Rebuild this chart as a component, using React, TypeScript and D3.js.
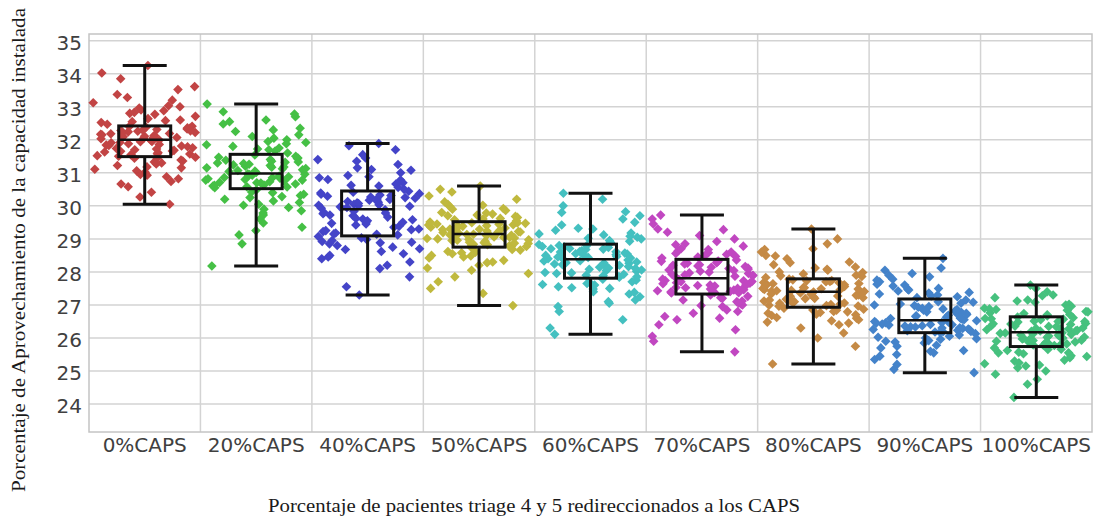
import React from "react";
import * as d3 from "d3";

// Categories along the x axis
const categories = [
  "0%CAPS", "20%CAPS", "40%CAPS", "50%CAPS", "60%CAPS",
  "70%CAPS", "80%CAPS", "90%CAPS", "100%CAPS",
];

// Box statistics per category: whisker ends (min / max), quartiles and median
const mins = [30.05, 28.18, 27.3, 26.98, 26.11, 25.58, 25.21, 24.95, 24.2];
const q1s = [31.49, 30.52, 29.09, 28.75, 27.81, 27.33, 26.93, 26.16, 25.74];
const medians = [32.0, 30.98, 29.9, 29.15, 28.38, 27.81, 27.4, 26.54, 26.17];
const q3s = [32.42, 31.56, 30.45, 29.52, 28.84, 28.38, 27.79, 27.18, 26.64];
const maxs = [34.25, 33.08, 31.89, 30.6, 30.38, 29.72, 29.3, 28.41, 27.6];

// Individual replications per scenario
const caps0 = [
  30.05, 30.41, 30.27, 30.66, 30.82, 30.74, 31.02, 30.93, 31.18, 31.11, 31.33, 31.27, 31.44, 31.39, 30.58, 31.06, 31.22, 31.47, 30.88, 31.36, 31.15,
  31.52, 31.61, 31.57, 31.74, 31.66, 31.83, 31.79, 31.91, 31.88, 31.97, 31.55, 31.7, 31.95, 31.63, 31.86, 31.76, 31.5, 31.92, 31.68, 31.81, 31.99,
  32.03, 32.11, 32.07, 32.19, 32.15, 32.26, 32.22, 32.33, 32.29, 32.4, 32.05, 32.17, 32.36, 32.09, 32.24, 32.31, 32.13, 32.38, 32.2, 32.27, 32.41,
  32.47, 32.58, 32.52, 32.71, 32.64, 32.83, 32.77, 32.96, 32.9, 33.12, 33.03, 33.28, 33.37, 33.52, 33.61, 33.85, 34.02, 34.25, 32.55, 32.88, 33.2,
  31.58, 31.72, 31.84, 31.94, 32.06, 32.18, 32.28, 32.35, 31.45, 31.3, 32.6, 32.8, 33.0, 30.95, 31.65, 32.12,
];
const caps20 = [
  28.18, 28.85, 29.12, 29.35, 29.6, 29.48, 29.78, 29.9, 29.72, 30.02, 30.1, 29.95, 30.2, 30.28, 30.15, 30.35, 30.42, 30.31, 30.48, 30.05, 29.25,
  30.55, 30.6, 30.58, 30.66, 30.63, 30.71, 30.69, 30.75, 30.78, 30.73, 30.82, 30.8, 30.86, 30.84, 30.9, 30.88, 30.93, 30.95, 30.91, 30.97, 30.62,
  31.01, 31.05, 31.09, 31.04, 31.13, 31.17, 31.12, 31.22, 31.2, 31.26, 31.3, 31.28, 31.35, 31.33, 31.4, 31.38, 31.45, 31.43, 31.5, 31.54, 31.24,
  31.6, 31.66, 31.72, 31.8, 31.75, 31.88, 31.95, 32.05, 32.0, 32.15, 32.25, 32.35, 32.3, 32.48, 32.6, 32.7, 32.55, 32.78, 32.85, 33.08, 31.92,
  30.57, 30.7, 30.85, 30.96, 31.07, 31.18, 31.32, 31.47, 30.4, 30.25, 31.7, 31.85, 32.1, 29.85, 30.78, 31.15,
];
const caps40 = [
  27.3, 27.55, 27.85, 28.1, 28.3, 28.2, 28.45, 28.55, 28.4, 28.68, 28.75, 28.62, 28.85, 28.92, 28.8, 28.98, 29.03, 28.95, 29.07, 28.5, 28.88,
  29.12, 29.18, 29.15, 29.25, 29.3, 29.22, 29.38, 29.42, 29.35, 29.5, 29.55, 29.47, 29.62, 29.66, 29.58, 29.72, 29.78, 29.7, 29.84, 29.88, 29.8,
  29.93, 29.97, 30.0, 29.95, 30.05, 30.09, 30.03, 30.13, 30.17, 30.11, 30.21, 30.25, 30.19, 30.29, 30.33, 30.27, 30.37, 30.41, 30.35, 30.44, 30.23,
  30.5, 30.56, 30.62, 30.7, 30.66, 30.78, 30.85, 30.92, 30.88, 31.0, 31.08, 31.15, 31.1, 31.25, 31.35, 31.45, 31.4, 31.55, 31.7, 31.89, 31.82,
  29.14, 29.28, 29.45, 29.6, 29.76, 29.99, 30.07, 30.15, 30.31, 30.39, 28.9, 28.7, 30.6, 30.8, 29.52, 30.02,
];
const caps50 = [
  26.98, 27.35, 27.5, 27.7, 27.85, 27.95, 28.05, 28.12, 28.2, 28.28, 28.35, 28.3, 28.42, 28.48, 28.45, 28.55, 28.6, 28.58, 28.66, 28.7, 28.73,
  28.77, 28.8, 28.79, 28.84, 28.86, 28.9, 28.88, 28.93, 28.95, 28.98, 28.97, 29.01, 29.03, 29.06, 29.05, 29.08, 29.1, 29.12, 29.11, 29.14, 28.82,
  29.17, 29.19, 29.22, 29.2, 29.25, 29.27, 29.3, 29.28, 29.33, 29.35, 29.37, 29.36, 29.4, 29.42, 29.44, 29.43, 29.47, 29.49, 29.48, 29.51, 29.24,
  29.55, 29.6, 29.58, 29.65, 29.7, 29.68, 29.75, 29.8, 29.78, 29.86, 29.92, 29.9, 29.98, 30.05, 30.02, 30.12, 30.2, 30.3, 30.42, 30.6, 30.5,
  28.78, 28.87, 28.96, 29.04, 29.13, 29.21, 29.29, 29.38, 29.45, 28.62, 28.5, 29.62, 29.72, 29.0, 29.16, 28.68,
];
const caps60 = [
  26.11, 26.3, 26.55, 26.8, 26.95, 27.05, 27.15, 27.1, 27.25, 27.33, 27.4, 27.38, 27.48, 27.52, 27.5, 27.6, 27.65, 27.62, 27.7, 27.75, 27.78,
  27.84, 27.88, 27.86, 27.93, 27.97, 27.95, 28.02, 28.06, 28.04, 28.1, 28.14, 28.12, 28.18, 28.22, 28.2, 28.26, 28.3, 28.28, 28.33, 28.36, 27.9,
  28.4, 28.43, 28.42, 28.47, 28.5, 28.49, 28.54, 28.57, 28.55, 28.61, 28.64, 28.62, 28.68, 28.71, 28.69, 28.74, 28.77, 28.76, 28.8, 28.83, 28.45,
  28.88, 28.93, 28.9, 29.0, 29.05, 29.02, 29.12, 29.18, 29.15, 29.26, 29.32, 29.3, 29.42, 29.5, 29.6, 29.7, 29.82, 29.8, 30.0, 30.2, 30.38,
  27.85, 27.98, 28.08, 28.16, 28.24, 28.34, 28.44, 28.52, 28.6, 28.7, 28.79, 27.68, 27.55, 28.95, 29.08, 28.27,
];
const caps70 = [
  25.58, 25.9, 26.05, 26.25, 26.4, 26.55, 26.65, 26.6, 26.75, 26.85, 26.8, 26.95, 27.02, 26.98, 27.1, 27.15, 27.12, 27.22, 27.26, 27.3, 27.0,
  27.36, 27.39, 27.38, 27.43, 27.46, 27.45, 27.5, 27.53, 27.52, 27.57, 27.6, 27.59, 27.64, 27.67, 27.66, 27.71, 27.74, 27.73, 27.77, 27.8, 27.41,
  27.85, 27.88, 27.87, 27.93, 27.97, 27.95, 28.02, 28.06, 28.04, 28.1, 28.14, 28.12, 28.18, 28.22, 28.2, 28.26, 28.3, 28.28, 28.33, 28.36, 27.91,
  28.42, 28.47, 28.45, 28.53, 28.58, 28.56, 28.64, 28.7, 28.68, 28.78, 28.85, 28.82, 28.92, 29.0, 29.1, 29.2, 29.3, 29.28, 29.45, 29.6, 29.72,
  27.37, 27.48, 27.55, 27.62, 27.7, 27.78, 27.9, 27.99, 28.08, 28.16, 28.24, 28.32, 27.2, 27.05, 28.5, 28.6,
];
const caps80 = [
  25.21, 25.75, 26.0, 26.15, 26.3, 26.4, 26.48, 26.45, 26.55, 26.62, 26.6, 26.68, 26.72, 26.7, 26.77, 26.8, 26.79, 26.84, 26.87, 26.9, 26.52,
  26.96, 26.99, 26.98, 27.03, 27.06, 27.05, 27.1, 27.13, 27.12, 27.17, 27.2, 27.19, 27.24, 27.27, 27.26, 27.3, 27.33, 27.32, 27.36, 27.39, 27.01,
  27.42, 27.44, 27.43, 27.47, 27.5, 27.49, 27.53, 27.56, 27.55, 27.59, 27.62, 27.61, 27.65, 27.68, 27.67, 27.71, 27.74, 27.73, 27.76, 27.78, 27.46,
  27.83, 27.88, 27.86, 27.94, 28.0, 27.98, 28.08, 28.15, 28.12, 28.22, 28.3, 28.28, 28.4, 28.5, 28.48, 28.6, 28.7, 28.68, 28.85, 29.0, 29.3,
  26.97, 27.08, 27.15, 27.22, 27.29, 27.35, 27.41, 27.48, 27.52, 27.58, 27.64, 27.7, 26.85, 26.75, 27.9, 28.05,
];
const caps90 = [
  24.95, 25.05, 25.2, 25.35, 25.45, 25.55, 25.62, 25.6, 25.7, 25.78, 25.75, 25.85, 25.9, 25.88, 25.96, 26.0, 25.98, 26.05, 26.09, 26.13, 25.5,
  26.18, 26.2, 26.19, 26.23, 26.26, 26.25, 26.29, 26.31, 26.3, 26.34, 26.37, 26.36, 26.4, 26.42, 26.41, 26.45, 26.48, 26.47, 26.5, 26.52, 26.22,
  26.57, 26.6, 26.59, 26.65, 26.69, 26.67, 26.73, 26.77, 26.75, 26.82, 26.86, 26.84, 26.9, 26.95, 26.93, 27.0, 27.05, 27.03, 27.1, 27.15, 26.63,
  27.22, 27.27, 27.25, 27.33, 27.38, 27.36, 27.45, 27.5, 27.48, 27.57, 27.63, 27.6, 27.7, 27.78, 27.75, 27.85, 27.95, 28.05, 28.12, 28.41, 27.9,
  26.17, 26.27, 26.33, 26.39, 26.46, 26.55, 26.62, 26.71, 26.79, 26.88, 26.98, 27.08, 26.02, 25.92, 27.3, 27.42,
];
const caps100 = [
  24.2, 24.6, 24.75, 24.9, 25.0, 25.1, 25.18, 25.15, 25.25, 25.33, 25.3, 25.4, 25.46, 25.44, 25.52, 25.57, 25.55, 25.62, 25.66, 25.7, 25.22,
  25.77, 25.8, 25.79, 25.84, 25.87, 25.86, 25.9, 25.93, 25.92, 25.97, 26.0, 25.99, 26.03, 26.06, 26.05, 26.09, 26.12, 26.11, 26.14, 26.16, 25.82,
  26.2, 26.23, 26.22, 26.27, 26.3, 26.29, 26.34, 26.37, 26.36, 26.41, 26.44, 26.43, 26.48, 26.51, 26.5, 26.55, 26.58, 26.57, 26.61, 26.63, 26.25,
  26.67, 26.71, 26.7, 26.76, 26.8, 26.79, 26.86, 26.9, 26.88, 26.96, 27.02, 27.0, 27.08, 27.15, 27.12, 27.22, 27.3, 27.28, 27.4, 27.5, 27.6,
  25.78, 25.88, 25.95, 26.02, 26.08, 26.15, 26.21, 26.28, 26.35, 26.42, 26.5, 26.59, 25.65, 25.55, 26.74, 26.84,
];
const replications = [caps0, caps20, caps40, caps50, caps60, caps70, caps80, caps90, caps100];

const yTicks = [24, 25, 26, 27, 28, 29, 30, 31, 32, 33, 34, 35];

const colors = [
  "#BF3B3B", "#3CBD3C", "#3B3BC6", "#BDB634", "#3BBDBD",
  "#BE3EBE", "#C2843C", "#3B7DC8", "#3DBE78",
];

const W = 1097;
const H = 520;
const plot = { left: 89, right: 1092, top: 34, bottom: 432 };

// deterministic horizontal spread for the replication markers
function spread(i: number, c: number): number {
  const s = Math.sin((i + 1) * 12.9898 + (c + 1) * 78.233) * 43758.5453;
  return s - Math.floor(s);
}

export default function App() {
  const x = d3.scaleBand<string>().domain(categories).range([plot.left, plot.right]).padding(0);
  const y = d3.scaleLinear().domain([23.153, 35.203]).range([plot.bottom, plot.top]);
  const bw = x.bandwidth();
  const boxW = 52;
  const capW = 44;
  const jitter = 52;
  const r = 4.8;
  const diamond = (cx: number, cy: number) =>
    `M${cx},${cy - r}L${cx + r},${cy}L${cx},${cy + r}L${cx - r},${cy}Z`;

  return (
    <svg width={W} height={H} style={{ position: "absolute", left: 0, top: 0, background: "#fff" }}>
      {/* grid */}
      <g stroke="#d3d3d3" strokeWidth={1.5}>
        {yTicks.map((t) => (
          <line key={t} x1={plot.left} x2={plot.right} y1={y(t)} y2={y(t)} />
        ))}
        {categories.slice(1).map((c) => (
          <line key={c} x1={x(c)} x2={x(c)} y1={plot.top} y2={plot.bottom} />
        ))}
      </g>
      <rect x={plot.left} y={plot.top} width={plot.right - plot.left} height={plot.bottom - plot.top}
        fill="none" stroke="#c4c4c4" strokeWidth={1.5} />

      {/* replication markers */}
      {replications.map((vals, c) => {
        const cx = (x(categories[c]) as number) + bw / 2;
        return (
          <g key={c} fill={colors[c]} opacity={0.95}>
            {vals.map((v, i) => (
              <path key={i} d={diamond(cx + (spread(i, c) - 0.5) * 2 * jitter, y(v))} />
            ))}
          </g>
        );
      })}

      {/* boxes */}
      {categories.map((cat, c) => {
        const cx = (x(cat) as number) + bw / 2;
        return (
          <g key={cat} stroke="#111" fill="none">
            <line x1={cx} x2={cx} y1={y(maxs[c])} y2={y(q3s[c])} strokeWidth={3} />
            <line x1={cx} x2={cx} y1={y(q1s[c])} y2={y(mins[c])} strokeWidth={3} />
            <line x1={cx - capW / 2} x2={cx + capW / 2} y1={y(maxs[c])} y2={y(maxs[c])} strokeWidth={3} />
            <line x1={cx - capW / 2} x2={cx + capW / 2} y1={y(mins[c])} y2={y(mins[c])} strokeWidth={3} />
            <rect x={cx - boxW / 2} y={y(q3s[c])} width={boxW} height={y(q1s[c]) - y(q3s[c])} strokeWidth={3} />
            <line x1={cx - boxW / 2} x2={cx + boxW / 2} y1={y(medians[c])} y2={y(medians[c])} strokeWidth={2.5} />
          </g>
        );
      })}

      {/* axis labels */}
      <g fontFamily="'DejaVu Sans', Verdana, sans-serif" fontSize={20} fill="#404040">
        {yTicks.map((t) => (
          <text key={t} x={82} y={y(t) + 2} textAnchor="end" dominantBaseline="central">{t}</text>
        ))}
        {categories.map((cat) => (
          <text key={cat} x={(x(cat) as number) + bw / 2} y={452} textAnchor="middle">{cat}</text>
        ))}
      </g>

      {/* axis titles */}
      <g fontFamily="'Liberation Serif', 'Times New Roman', serif" fontSize={18} fill="#1a1a1a">
        <text x={534} y={512} textAnchor="middle" textLength={532} lengthAdjust="spacingAndGlyphs">
          Porcentaje de pacientes triage 4 y 5 redireccionados a los CAPS
        </text>
        <text transform="translate(25,250) rotate(-90)" x={0} y={0} textAnchor="middle" textLength={484}
          lengthAdjust="spacingAndGlyphs">
          Porcentaje de Aprovechamiento de la capacidad instalada
        </text>
      </g>
    </svg>
  );
}
